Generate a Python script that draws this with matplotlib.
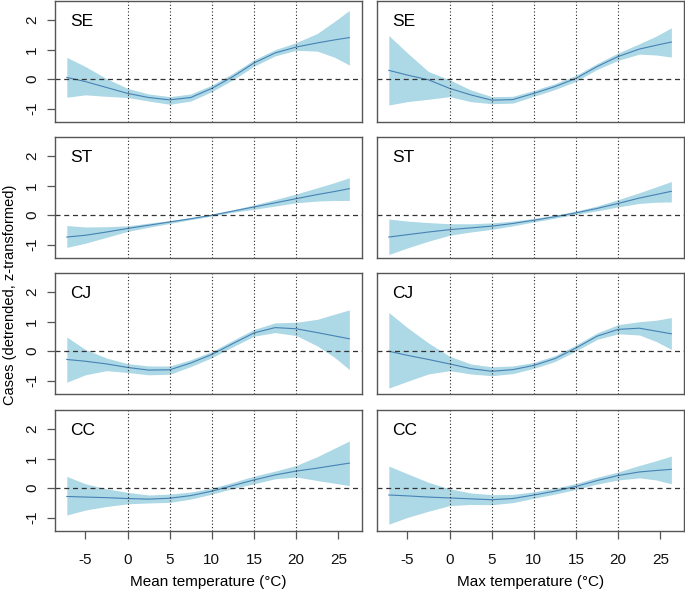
import matplotlib
matplotlib.use("Agg")
import matplotlib.pyplot as plt

plt.rcParams['font.family'] = ['Liberation Sans', 'DejaVu Sans']
plt.rcParams['axes.unicode_minus'] = False

# shared temperature grid (deg C)
temp = [-7.2, -5, -2.5, 0, 2.5, 5, 7.5, 10, 12.5, 15, 17.5, 20, 22.5, 24.5, 26.3]

regions = ["SE", "ST", "CJ", "CC"]

# mean temperature: fit, lower, upper
se_mean = [0.06, -0.08, -0.28, -0.48, -0.62, -0.70, -0.62, -0.31, 0.09, 0.55, 0.89, 1.09, 1.23, 1.33, 1.41]
se_mean_lo = [-0.61, -0.53, -0.58, -0.62, -0.74, -0.85, -0.74, -0.42, -0.02, 0.44, 0.79, 0.98, 0.95, 0.75, 0.48]
se_mean_hi = [0.74, 0.43, 0.02, -0.31, -0.50, -0.59, -0.50, -0.20, 0.20, 0.66, 1.00, 1.24, 1.55, 1.95, 2.33]

st_mean = [-0.74, -0.68, -0.57, -0.45, -0.34, -0.23, -0.12, 0.0, 0.14, 0.28, 0.42, 0.56, 0.70, 0.80, 0.90]
st_mean_lo = [-1.09, -0.95, -0.75, -0.55, -0.41, -0.28, -0.15, -0.03, 0.10, 0.20, 0.31, 0.42, 0.48, 0.50, 0.50]
st_mean_hi = [-0.35, -0.40, -0.39, -0.36, -0.27, -0.18, -0.08, 0.03, 0.18, 0.35, 0.53, 0.72, 0.93, 1.10, 1.27]

cj_mean = [-0.28, -0.34, -0.43, -0.55, -0.64, -0.63, -0.40, -0.11, 0.26, 0.62, 0.80, 0.76, 0.63, 0.52, 0.42]
cj_mean_lo = [-1.05, -0.80, -0.66, -0.72, -0.80, -0.78, -0.52, -0.22, 0.15, 0.51, 0.63, 0.53, 0.18, -0.20, -0.62]
cj_mean_hi = [0.48, 0.06, -0.23, -0.42, -0.50, -0.50, -0.29, -0.01, 0.37, 0.74, 0.96, 0.98, 1.08, 1.25, 1.40]

cc_mean = [-0.28, -0.30, -0.32, -0.35, -0.37, -0.34, -0.25, -0.10, 0.09, 0.28, 0.45, 0.58, 0.68, 0.77, 0.85]
cc_mean_lo = [-0.91, -0.74, -0.62, -0.53, -0.50, -0.48, -0.37, -0.20, -0.01, 0.15, 0.32, 0.38, 0.26, 0.17, 0.09]
cc_mean_hi = [0.40, 0.15, -0.02, -0.14, -0.23, -0.20, -0.13, 0.00, 0.20, 0.41, 0.58, 0.77, 1.07, 1.35, 1.60]

# max temperature: fit, lower, upper
se_max = [0.30, 0.14, -0.02, -0.31, -0.53, -0.71, -0.69, -0.48, -0.25, 0.03, 0.43, 0.77, 1.02, 1.15, 1.26]
se_max_lo = [-0.875, -0.76, -0.68, -0.59, -0.76, -0.83, -0.81, -0.58, -0.35, -0.07, 0.33, 0.64, 0.85, 0.82, 0.75]
se_max_hi = [1.48, 0.89, 0.26, -0.02, -0.36, -0.59, -0.58, -0.38, -0.15, 0.13, 0.53, 0.89, 1.20, 1.46, 1.74]

st_max = [-0.74, -0.66, -0.57, -0.49, -0.43, -0.37, -0.28, -0.17, -0.05, 0.08, 0.23, 0.40, 0.58, 0.70, 0.81]
st_max_lo = [-1.33, -1.11, -0.88, -0.68, -0.57, -0.48, -0.36, -0.23, -0.10, 0.03, 0.15, 0.28, 0.40, 0.44, 0.45]
st_max_hi = [-0.13, -0.20, -0.25, -0.29, -0.29, -0.26, -0.20, -0.11, 0.00, 0.14, 0.31, 0.53, 0.76, 0.96, 1.14]

cj_max = [0.0, -0.14, -0.28, -0.43, -0.59, -0.68, -0.625, -0.48, -0.25, 0.11, 0.51, 0.74, 0.78, 0.68, 0.59]
cj_max_lo = [-1.25, -1.02, -0.77, -0.66, -0.77, -0.83, -0.76, -0.58, -0.35, 0.01, 0.40, 0.59, 0.55, 0.33, 0.06]
cj_max_hi = [1.31, 0.80, 0.28, -0.17, -0.43, -0.53, -0.50, -0.38, -0.15, 0.21, 0.62, 0.90, 1.00, 1.05, 1.14]

cc_max = [-0.23, -0.26, -0.30, -0.33, -0.36, -0.39, -0.35, -0.23, -0.10, 0.06, 0.26, 0.43, 0.55, 0.60, 0.64]
cc_max_lo = [-1.22, -0.99, -0.78, -0.59, -0.55, -0.56, -0.49, -0.34, -0.20, -0.04, 0.14, 0.28, 0.35, 0.28, 0.15]
cc_max_hi = [0.75, 0.49, 0.20, -0.02, -0.16, -0.22, -0.21, -0.12, 0.00, 0.16, 0.37, 0.55, 0.77, 0.93, 1.09]

mean_panels = [(se_mean, se_mean_lo, se_mean_hi), (st_mean, st_mean_lo, st_mean_hi),
               (cj_mean, cj_mean_lo, cj_mean_hi), (cc_mean, cc_mean_lo, cc_mean_hi)]
max_panels = [(se_max, se_max_lo, se_max_hi), (st_max, st_max_lo, st_max_hi),
              (cj_max, cj_max_lo, cj_max_hi), (cc_max, cc_max_lo, cc_max_hi)]

xticks = [-5, 0, 5, 10, 15, 20, 25]
vlines = [0, 5, 10, 15, 20]
yticks = [-1, 0, 1, 2]

W, H = 685, 589
fig = plt.figure(figsize=(W / 100, H / 100), dpi=100)

col_left = [55, 377]
col_w = 307
row_top = [1, 137, 273, 410]
row_h = 121
box = "#555555"

for c, panels in enumerate([mean_panels, max_panels]):
    for r, (fit, lo, hi) in enumerate(panels):
        ax = fig.add_axes([col_left[c] / W, 1 - (row_top[r] + row_h) / H, col_w / W, row_h / H])
        ax.fill_between(temp, lo, hi, color="#ADD8E6", lw=0)
        ax.plot(temp, fit, color="#4682B4", lw=0.8)
        ax.axhline(0, color="#333333", ls=(0, (4, 3)), lw=0.9)
        for v in vlines:
            ax.axvline(v, color="#222222", ls=(0, (1, 2)), lw=0.8)
        ax.set_xlim(-8.6, 27.8)
        ax.set_ylim(-1.45, 2.65)
        for s in ax.spines.values():
            s.set_color(box)
            s.set_linewidth(1.0)
        ax.text(0.05, 0.83, regions[r], transform=ax.transAxes, ha="left", va="center", fontsize=12.5)
        ax.tick_params(colors=box, labelcolor="#111111", length=5.5, width=0.9, labelsize=11)
        ax.tick_params(axis="x", pad=10)
        ax.tick_params(axis="y", pad=6)
        if c == 0:
            ax.set_yticks(yticks)
            ax.set_yticklabels([str(t) for t in yticks], rotation=90, va="center")
        else:
            ax.set_yticks([])
        if r == 3:
            ax.set_xticks(xticks)
            ax.set_xlabel(["Mean temperature (\u00b0C)", "Max temperature (\u00b0C)"][c], fontsize=11, labelpad=6)
        else:
            ax.set_xticks([])

fig.text(10 / W, 0.5, "Cases (detrended, z-transformed)", rotation=90, ha="center", va="center", fontsize=10.5)

fig.savefig("out.png", dpi=100)
